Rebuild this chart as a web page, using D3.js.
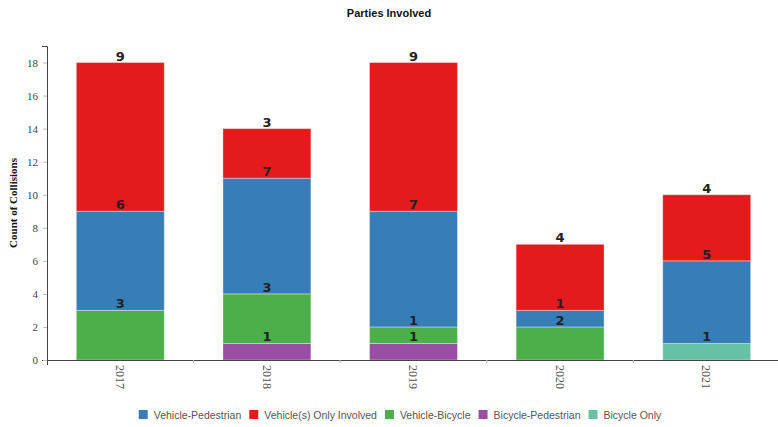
<!DOCTYPE html>
<html><head><meta charset="utf-8">
<script src="https://cdn.jsdelivr.net/npm/d3@7"></script>
<style>body{margin:0;background:#fff}</style>
</head><body><svg id="c" width="778" height="427"></svg>
<script>
const years = ["2017","2018","2019","2020","2021"];
const seriesNames = ["Bicycle Only","Bicycle-Pedestrian","Vehicle-Bicycle","Vehicle-Pedestrian","Vehicle(s) Only Involved"];
const bicycleOnly = [0,0,0,0,1];
const bicyclePedestrian = [0,1,1,0,0];
const vehicleBicycle = [3,3,1,2,0];
const vehiclePedestrian = [6,7,7,1,5];
const vehicleOnly = [9,3,9,4,4];
const legendOrder = ["Vehicle-Pedestrian","Vehicle(s) Only Involved","Vehicle-Bicycle","Bicycle-Pedestrian","Bicycle Only"];
const colors = {"Vehicle-Pedestrian":"#377eb8","Vehicle(s) Only Involved":"#e41a1c","Vehicle-Bicycle":"#4daf4a","Bicycle-Pedestrian":"#984ea3","Bicycle Only":"#66c2a5"};
const yTicks = [0,2,4,6,8,10,12,14,16,18];

const valuesBySeries = {"Bicycle Only":bicycleOnly,"Bicycle-Pedestrian":bicyclePedestrian,"Vehicle-Bicycle":vehicleBicycle,"Vehicle-Pedestrian":vehiclePedestrian,"Vehicle(s) Only Involved":vehicleOnly};
const table = years.map((yr,i)=>{const o={year:yr};seriesNames.forEach(s=>o[s]=valuesBySeries[s][i]);return o;});

const svg = d3.select("#c");
const mLeft=47, mRight=780, mTop=46, mBottom=360;
const x = d3.scaleBand().domain(years).range([mLeft,mRight]).paddingInner(0.4).paddingOuter(0.2);
const y = d3.scaleLinear().domain([0,19]).range([mBottom,mTop]);

svg.append("text").attr("x",389).attr("y",17).attr("text-anchor","middle")
  .style("font-family","Liberation Sans, Arial, sans-serif").style("font-size","11px").style("font-weight","bold").attr("fill","#111").text("Parties Involved");

const stack = d3.stack().keys(seriesNames)(table);
const g = svg.append("g");
stack.forEach(layer=>{
  g.selectAll(null).data(layer).join("rect")
   .attr("x",d=>x(d.data.year)).attr("width",x.bandwidth())
   .attr("y",d=>y(d[1])).attr("height",d=>y(d[0])-y(d[1]))
   .attr("fill",colors[layer.key]).attr("stroke","#fff").attr("stroke-opacity",0.35).attr("stroke-width",1);
});
stack.forEach(layer=>{
  g.selectAll(null).data(layer.filter(d=>d[1]-d[0]>0)).join("text")
   .attr("x",d=>x(d.data.year)+x.bandwidth()/2).attr("y",d=>y(d[1])-2)
   .attr("text-anchor","middle")
   .style("font-family","DejaVu Sans, Verdana, sans-serif").style("font-size","13px").style("font-weight","bold")
   .attr("fill","#222").text(d=>d[1]-d[0]);
});

// y axis
const ya = svg.append("g").attr("transform",`translate(${mLeft},0)`)
  .call(d3.axisLeft(y).tickValues(yTicks).tickSize(4).tickSizeOuter(5).tickPadding(5));
ya.select(".domain").attr("stroke","#444");
ya.selectAll(".tick line").attr("stroke","#bbb");
ya.selectAll(".tick text").style("font-family","Liberation Serif, Times New Roman, serif").style("font-size","11px").attr("fill","#444");

// x axis
const xa = svg.append("g").attr("transform",`translate(0,${mBottom})`)
  .call(d3.axisBottom(x).tickSize(0).tickSizeOuter(5).tickPadding(5));
xa.select(".domain").attr("stroke","#444");
xa.selectAll(".tick text").attr("transform","rotate(90)").attr("text-anchor","start")
  .attr("x",5).attr("y",0).attr("dy","0.35em").attr("dx",0)
  .style("font-family","Liberation Serif, Times New Roman, serif").style("font-size","12px").attr("fill","#555");
// small ticks between bands
const gapTicks = years.slice(0,-1).map(yr=>x(yr)+x.bandwidth()+x.step()*x.paddingInner()/2);
xa.selectAll(".gtick").data(gapTicks).join("line").attr("class","gtick")
  .attr("x1",d=>d).attr("x2",d=>d).attr("y1",0).attr("y2",3).attr("stroke","#bbb");

svg.append("text").attr("transform","translate(17,203) rotate(-90)").attr("text-anchor","middle")
  .style("font-family","Liberation Serif, Times New Roman, serif").style("font-size","11px").style("font-weight","bold")
  .attr("fill","#111").text("Count of Collisions");

// legend
const lg = svg.append("g");
let cx = 0;
legendOrder.forEach(name=>{
  const it = lg.append("g").attr("transform",`translate(${cx},0)`);
  it.append("rect").attr("x",0).attr("y",-9).attr("width",9).attr("height",9).attr("fill",colors[name]);
  const t = it.append("text").attr("x",15).attr("y",0)
    .style("font-family","Liberation Sans, Arial, sans-serif").style("font-size","10.5px").attr("fill","#555").text(name);
  cx += 15 + t.node().getComputedTextLength() + 8;
});
const total = cx - 8;
lg.attr("transform",`translate(${400-total/2},419)`);
</script></body></html>
